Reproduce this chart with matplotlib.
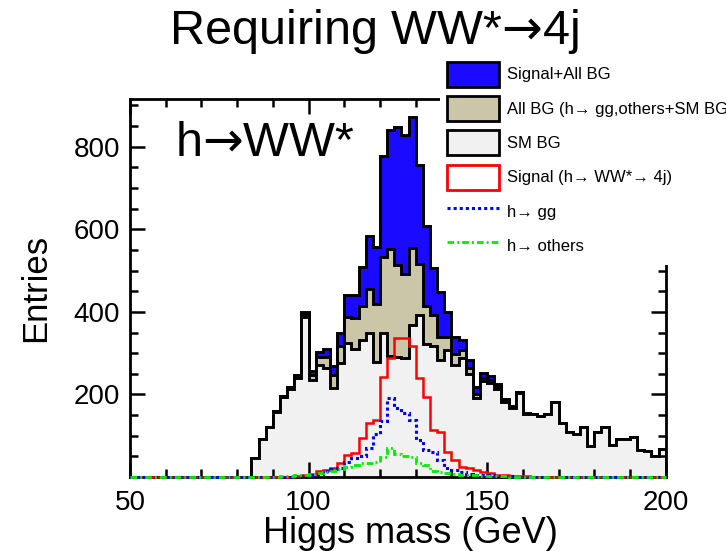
import numpy as np
import matplotlib
matplotlib.use("Agg")
import matplotlib.pyplot as plt
from matplotlib.patches import Patch
from matplotlib.lines import Line2D
from matplotlib.ticker import MultipleLocator

plt.rcParams["font.family"] = ["Liberation Sans", "DejaVu Sans"]
plt.rcParams["mathtext.fontset"] = "dejavusans"

# 2 GeV bins from 50 to 200 GeV
edges = np.arange(50, 202, 2)

# SM background (entries per bin)
sm_bg = [0] * 17 + [
    45, 93, 122, 158, 195, 214, 240, 387, 235, 272,
    265, 215, 276, 325, 310, 332, 350, 278, 350, 292,
    290, 288, 368, 392, 322, 318, 284, 308, 272, 288,
    250, 192, 232, 228, 214, 182, 166, 203, 152, 152,
    147, 153, 181, 130, 108, 104, 120, 76, 108, 122,
    77, 91, 91, 97, 66, 64, 52, 69,
]

# h -> WW* -> 4j signal
signal = [0] * 22 + [
    1, 2, 4, 8, 14, 18, 22, 33, 53, 57,
    94, 130, 138, 243, 288, 336, 336, 318, 241, 194,
    114, 110, 61, 41, 25, 21, 17, 13, 9, 6,
    4, 3, 2, 2, 1, 1,
] + [0] * 17

# h -> gg
h_gg = [0] * 22 + [
    1, 2, 3, 5, 8, 14, 19, 21, 37, 45,
    50, 70, 105, 136, 191, 168, 154, 138, 89, 65,
    61, 41, 21, 17, 13, 8, 6, 5, 4, 3,
    2, 2, 1, 1,
] + [0] * 19

# h -> others
h_others = [0] * 20 + [
    1, 2, 3, 4, 6, 8, 10, 12, 14, 20,
    25, 30, 33, 35, 37, 48, 70, 55, 50, 48,
    35, 28, 14, 13, 9, 8, 6, 5, 4, 3,
    3, 2, 2, 1, 1,
] + [0] * 20

sm_bg = np.array(sm_bg, dtype=float)
signal = np.array(signal, dtype=float)
h_gg = np.array(h_gg, dtype=float)
h_others = np.array(h_others, dtype=float)

all_bg = sm_bg + h_gg + h_others
total = all_bg + signal

c_blue = "#1a0aff"
c_tan = "#ccc6a9"
c_grey = "#f1f1f1"
ls_gg = (0, (1.0, 1.0))
ls_oth = (0, (2.4, 1.1, 0.7, 1.1))

fig = plt.figure(figsize=(7.26, 5.51), dpi=100)
ax = fig.add_axes([130 / 726, 1 - 477 / 551, 535.7 / 726, 377.7 / 551])

ax.stairs(total, edges, fill=True, facecolor=c_blue, edgecolor="black", linewidth=2.1)
ax.stairs(all_bg, edges, fill=True, facecolor=c_tan, edgecolor="black", linewidth=2.1)
ax.stairs(sm_bg, edges, fill=True, facecolor=c_grey, edgecolor="black", linewidth=2.1)
ax.stairs(signal, edges, color="#ff0000", linewidth=1.8, clip_on=False, zorder=3)
ax.stairs(h_gg, edges, color="#0000ff", linewidth=2.2, linestyle=ls_gg,
          clip_on=False, zorder=3.1)
ax.stairs(h_others, edges, color="#00ee00", linewidth=2.0, linestyle=ls_oth,
          clip_on=False, zorder=3.2)

ax.set_xlim(50, 200)
ax.set_ylim(0, 915)
ax.xaxis.set_major_locator(MultipleLocator(50))
ax.xaxis.set_minor_locator(MultipleLocator(10))
ax.yaxis.set_minor_locator(MultipleLocator(50))
ax.set_yticks([200, 400, 600, 800])
ax.tick_params(which="both", direction="in", top=True, right=True, width=1.8,
               labelsize=20)
ax.tick_params(axis="y", which="both", pad=7)
ax.tick_params(axis="x", which="both", pad=9)
ax.tick_params(which="major", length=11)
ax.tick_params(which="minor", length=5.5)
for sp in ax.spines.values():
    sp.set_linewidth(2.0)

ax.set_xlabel("Higgs mass (GeV)", fontsize=26, va="center")
ax.xaxis.set_label_coords(0.523, -0.149)
ax.set_ylabel("Entries", fontsize=25, va="center")
ax.yaxis.set_label_coords(-0.177, 0.5)

# unicode arrow inside math mode: DejaVu glyph, no relation spacing
ax.text(0.084, 0.884, "h$\u2192$WW*", transform=ax.transAxes, fontsize=35,
        ha="left", va="center")
fig.text(374 / 726, 1 - 32 / 551, "Requiring WW*$\u2192$4j", fontsize=35,
         ha="center", va="center")

handles = [
    Patch(facecolor=c_blue, edgecolor="black", linewidth=2.0),
    Patch(facecolor=c_tan, edgecolor="black", linewidth=2.0),
    Patch(facecolor=c_grey, edgecolor="black", linewidth=2.0),
    Patch(facecolor="white", edgecolor="#ff0000", linewidth=2.0),
    Line2D([], [], color="#0000ff", linewidth=2.2, linestyle=ls_gg),
    Line2D([], [], color="#00ee00", linewidth=2.0, linestyle=ls_oth),
]
labels = [
    "Signal+All BG",
    "All BG (h\u2192 gg,others+SM BG)",
    "SM BG",
    "Signal (h\u2192 WW*\u2192 4j)",
    "h\u2192 gg",
    "h\u2192 others",
]
leg = ax.legend(handles, labels, loc="upper left",
                bbox_to_anchor=(440 / 726, 1 - 55 / 551), bbox_transform=fig.transFigure,
                fontsize=12, handlelength=3.12, handleheight=1.93, labelspacing=0.56,
                handletextpad=0.52, borderpad=0.4, borderaxespad=0,
                frameon=True, fancybox=False, framealpha=1)
leg.get_frame().set_facecolor("white")
leg.get_frame().set_edgecolor("none")
leg.set_zorder(10)

fig.savefig("out.png", dpi=100)
